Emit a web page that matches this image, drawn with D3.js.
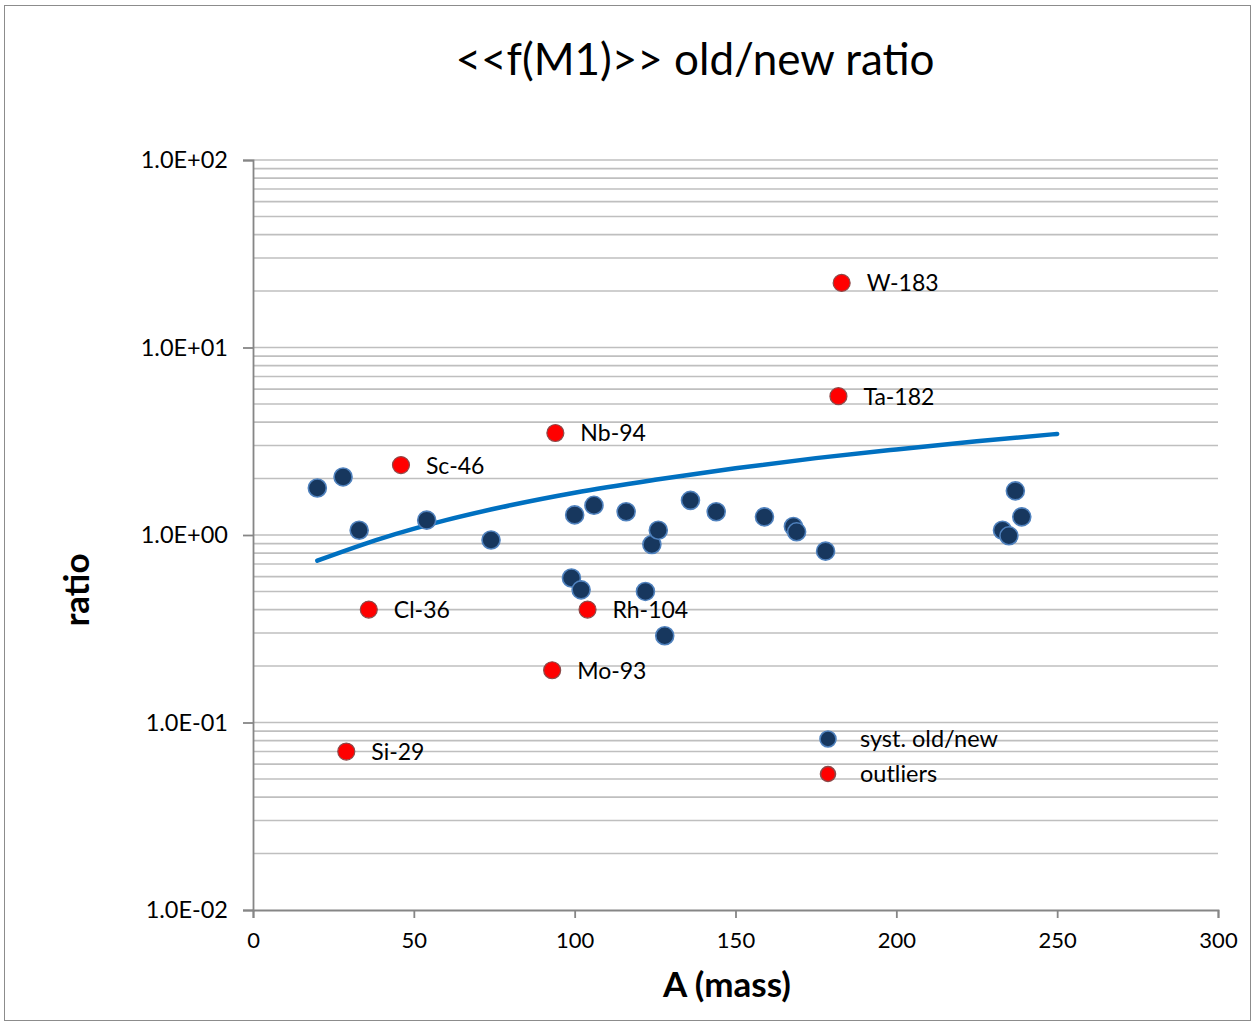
<!DOCTYPE html>
<html>
<head>
<meta charset="utf-8">
<script src="https://cdn.jsdelivr.net/npm/d3@7/dist/d3.min.js"></script>
<style>
  body { margin: 0; background: #fff; }
  text { font-family: Lato, "Open Sans", sans-serif; fill: #000; }
</style>
</head>
<body>
<svg id="chart" width="1255" height="1023"></svg>
<script>
// ---- data ----
const systMass  = [20, 28, 33, 54, 74, 100, 106, 116, 124, 126, 136, 144, 159, 168, 169, 178, 233, 235, 237, 239, 99, 102, 122, 128];
const systRatio = [1.78, 2.04, 1.06, 1.20, 0.94, 1.28, 1.44, 1.33, 0.89, 1.06, 1.53, 1.33, 1.25, 1.11, 1.04, 0.82, 1.06, 0.99, 1.72, 1.25, 0.59, 0.51, 0.50, 0.29];

const outlierNames = ["W-183", "Ta-182", "Nb-94", "Sc-46", "Cl-36", "Rh-104", "Mo-93", "Si-29"];
const outlierMass  = [183, 182, 94, 46, 36, 104, 93, 29];
const outlierRatio = [22.1, 5.5, 3.5, 2.36, 0.40, 0.40, 0.19, 0.070];

const trendMass  = [20, 40, 60, 80, 100, 125, 150, 175, 200, 225, 250];
const trendRatio = [0.73, 0.96, 1.20, 1.44, 1.68, 1.97, 2.27, 2.57, 2.86, 3.16, 3.46];

const xTicks = [0, 50, 100, 150, 200, 250, 300];
const yTicks = [1e-2, 1e-1, 1e0, 1e1, 1e2];
const yTickLabels = ["1.0E-02", "1.0E-01", "1.0E+00", "1.0E+01", "1.0E+02"];
const legendLabels = ["syst. old/new", "outliers"];

// ---- layout ----
const svg = d3.select("#chart");
const pLeft = 253, pRight = 1218, pTop = 160, pBottom = 910;

const x = d3.scaleLinear().domain([0, 300]).range([pLeft, pRight]);
const y = d3.scaleLog().domain([1e-2, 1e2]).range([pBottom, pTop]);

// outer frame
svg.append("rect").attr("x", 4.5).attr("y", 5.5).attr("width", 1246).attr("height", 1015)
  .attr("fill", "none").attr("stroke", "#8c8c8c").attr("stroke-width", 1);

// gridlines (major + minor)
const gridVals = [];
for (let e = -2; e < 2; e++) for (let m = 1; m <= 9; m++) gridVals.push(m * Math.pow(10, e));
gridVals.push(100);
svg.append("g").selectAll("line").data(gridVals.filter(v => v > 1e-2)).join("line")
  .attr("x1", pLeft).attr("x2", pRight)
  .attr("y1", d => y(d)).attr("y2", d => y(d))
  .attr("stroke", "#bfbfbf").attr("stroke-width", 1.6);

// y axis
const yAxis = d3.axisLeft(y).tickValues(yTicks).tickSize(10).tickFormat((d, i) => yTickLabels[i]);
const gy = svg.append("g").attr("transform", `translate(${pLeft},0)`).call(yAxis);
gy.select(".domain").attr("stroke", "#868686").attr("stroke-width", 1.8);
gy.selectAll(".tick line").attr("stroke", "#868686").attr("stroke-width", 1.8);
gy.selectAll(".tick text").attr("x", -25).attr("font-size", 23.5).attr("font-family", "Lato, sans-serif").attr("fill", "#000");

// x axis
const xAxis = d3.axisBottom(x).tickValues(xTicks).tickSize(8).tickFormat(d3.format("d"));
const gx = svg.append("g").attr("transform", `translate(0,${pBottom})`).call(xAxis);
gx.select(".domain").attr("stroke", "#868686").attr("stroke-width", 1.8);
gx.selectAll(".tick line").attr("stroke", "#868686").attr("stroke-width", 1.8);
gx.selectAll(".tick text").attr("y", 22).attr("font-size", 22).attr("font-family", "Lato, sans-serif").attr("fill", "#000");

// trend line
const line = d3.line().x((d, i) => x(trendMass[i])).y(d => y(d)).curve(d3.curveMonotoneX);
svg.append("path").datum(trendRatio).attr("d", line)
  .attr("fill", "none").attr("stroke", "#0070c0").attr("stroke-width", 4.5).attr("stroke-linecap", "round");

// syst points
svg.append("g").selectAll("circle").data(systRatio).join("circle")
  .attr("cx", (d, i) => x(systMass[i])).attr("cy", d => y(d)).attr("r", 9)
  .attr("fill", "#17375e").attr("stroke", "#4f81bd").attr("stroke-width", 1.6);

// outliers
svg.append("g").selectAll("circle").data(outlierRatio).join("circle")
  .attr("cx", (d, i) => x(outlierMass[i])).attr("cy", d => y(d)).attr("r", 8.5)
  .attr("fill", "#ff0000").attr("stroke", "#8c4a4a").attr("stroke-width", 1.2);
svg.append("g").selectAll("text").data(outlierRatio).join("text")
  .attr("x", (d, i) => x(outlierMass[i]) + 25).attr("y", d => y(d) + 8.5)
  .attr("font-size", 23).text((d, i) => outlierNames[i]);

// legend
const legColors = [["#17375e", "#4f81bd"], ["#ff0000", "#8c4a4a"]];
const lg = svg.append("g");
legendLabels.forEach((t, i) => {
  const cy = 739 + i * 35;
  lg.append("circle").attr("cx", 828).attr("cy", cy).attr("r", i === 0 ? 8 : 7.5)
    .attr("fill", legColors[i][0]).attr("stroke", legColors[i][1]).attr("stroke-width", 1.6);
  lg.append("text").attr("x", 860).attr("y", cy + 8).attr("font-size", 23.5).text(t);
});

// title
svg.append("text").attr("x", 695).attr("y", 75).attr("text-anchor", "middle")
  .attr("font-size", 44).text("<<f(M1)>> old/new ratio");

// axis titles
svg.append("text").attr("x", 727).attr("y", 997).attr("text-anchor", "middle")
  .attr("font-size", 35).attr("font-weight", "bold").text("A (mass)");
svg.append("text").attr("transform", "translate(89,590) rotate(-90)").attr("text-anchor", "middle")
  .attr("font-size", 35).attr("font-weight", "bold").text("ratio");
</script>
</body>
</html>
